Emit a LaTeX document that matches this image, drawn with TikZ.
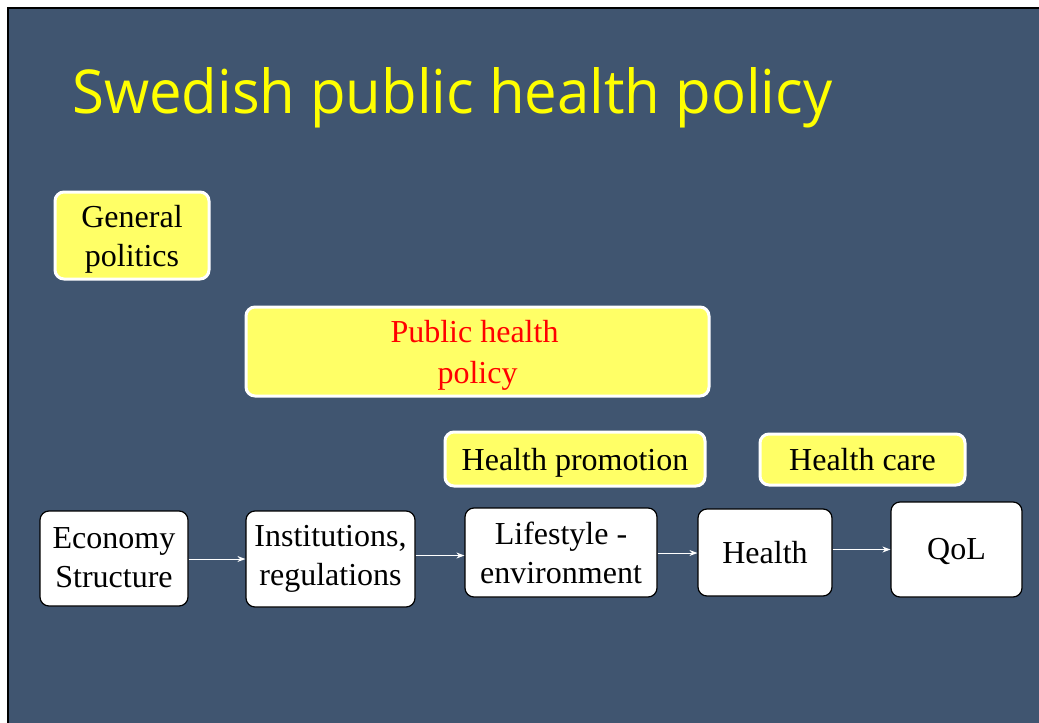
\documentclass[tikz,border=0pt]{standalone}
\usepackage{fontspec}
\setmainfont{Liberation Serif}
\newfontfamily\titlefont{Open Sans}
\usetikzlibrary{arrows.meta}
\definecolor{bgblue}{RGB}{64,85,112}
\definecolor{boxyellow}{RGB}{255,255,102}
\definecolor{titleyellow}{RGB}{255,255,0}
\newcommand{\dropby}[2]{\raisebox{-#1}[\height][\depth]{#2}}
\begin{document}
\begin{tikzpicture}[x=1pt,y=-1pt,
  ybox/.style={draw=white, line width=3pt, fill=boxyellow, rounded corners=9pt,
    align=center, inner sep=0pt, font=\fontsize{32}{39}\selectfont},
  wbox/.style={draw=black, line width=1.2pt, fill=white, rounded corners=9pt,
    align=center, inner sep=0pt, font=\fontsize{32}{39}\selectfont},
  flow/.style={draw=white, line width=1pt, -{Stealth[length=8pt,width=6pt]}}]
\useasboundingbox (0,0) rectangle (1039,723);
\fill[white] (0,0) rectangle (1039,723);
\fill[bgblue] (8,8) rectangle (1039,723);
\draw[black, line width=2pt] (8,723) -- (8,8) -- (1039,8);
\node[anchor=base west, inner sep=0pt, text=titleyellow] (title) at (72,113)
  {\resizebox{760pt}{46pt}{\titlefont Swedish public health policy}};
% yellow boxes
\node[ybox, minimum width=154pt, minimum height=87pt] (gen) at (132,235.5)
  {\dropby{4pt}{\begin{tabular}{@{}c@{}}General\\politics\end{tabular}}};
\node[ybox, minimum width=463pt, minimum height=89pt, text=red] (php) at (477.5,351.5)
  {\dropby{4pt}{\begin{tabular}{@{}c@{}}\hspace*{-6pt}Public health\\[2pt]policy\end{tabular}}};
\node[ybox, minimum width=260pt, minimum height=54pt] (hp) at (575,459) {\dropby{4pt}{Health promotion}};
\node[ybox, minimum width=205pt, minimum height=51pt] (hc) at (862.5,459.5) {Health care};
% white boxes
\node[wbox, minimum width=148pt, minimum height=95pt] (eco) at (114,558.5)
  {\dropby{2pt}{\begin{tabular}{@{}c@{}}Economy\\Structure\end{tabular}}};
\node[wbox, minimum width=169pt, minimum height=96pt] (inst) at (330.5,559) {Institutions,\\regulations};
\node[wbox, minimum width=192pt, minimum height=89pt] (life) at (561,552.5) {Lifestyle -\\environment};
\node[wbox, minimum width=134pt, minimum height=87pt] (health) at (765,552.5) {Health};
\node[wbox, minimum width=131pt, minimum height=95pt] (qol) at (956.5,549.5) {\dropby{2pt}{QoL}};
% arrows
\draw[flow] (eco.east |- 0,559) -- (inst.west |- 0,559);
\draw[flow] (inst.east |- 0,555.5) -- (life.west |- 0,555.5);
\draw[flow] (life.east |- 0,553) -- (health.west |- 0,553);
\draw[flow] (health.east |- 0,549.5) -- (qol.west |- 0,549.5);
\end{tikzpicture}
\end{document}
